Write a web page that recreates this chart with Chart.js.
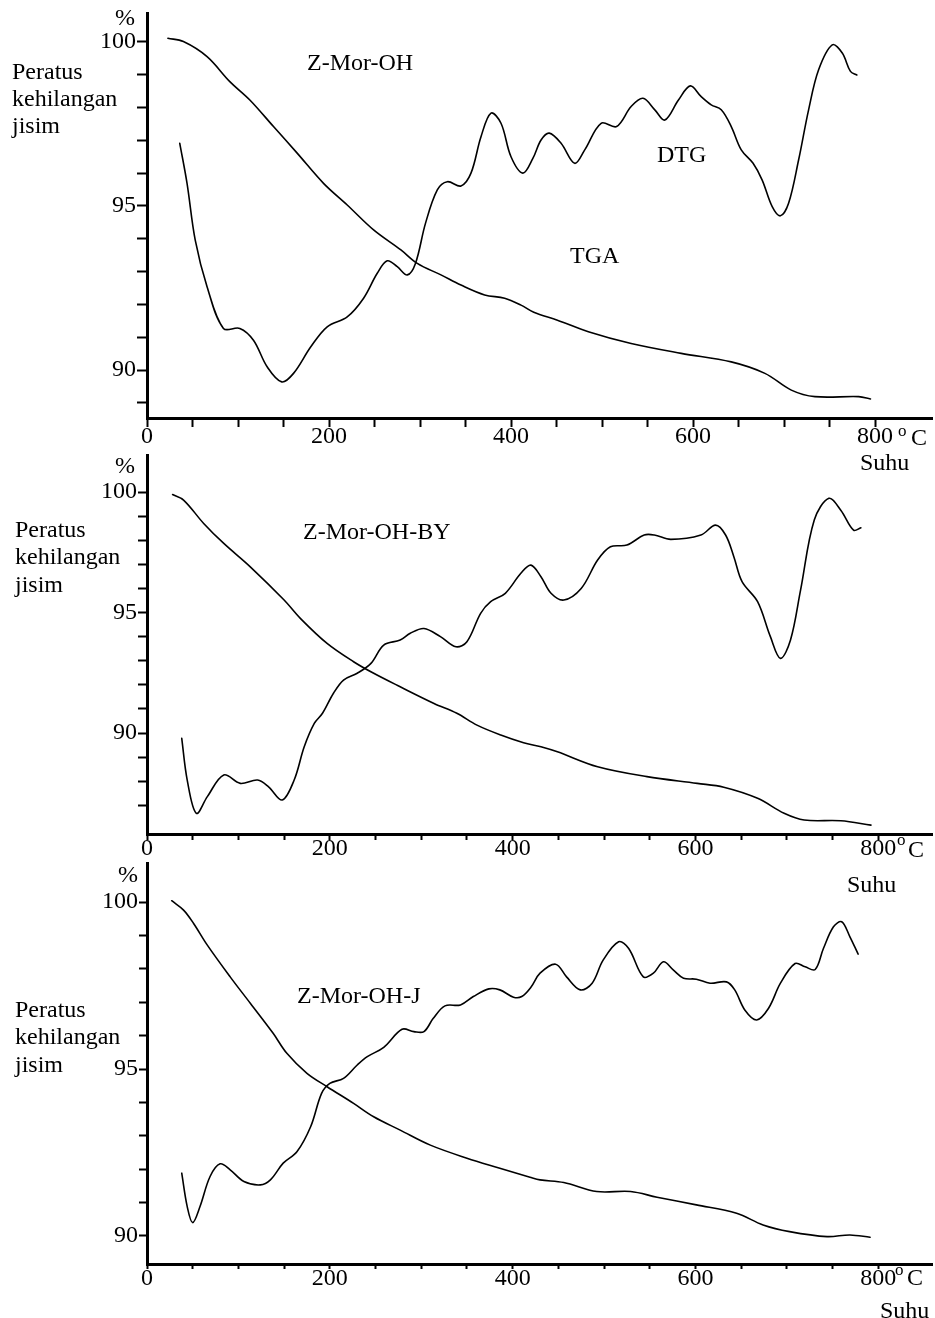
<!DOCTYPE html>
<html><head><meta charset="utf-8">
<script src="https://cdn.jsdelivr.net/npm/chart.js@4.4.0/dist/chart.umd.min.js"></script>
<style>
html,body{margin:0;padding:0;background:#fff;width:935px;height:1318px;overflow:hidden;position:relative}
canvas{position:absolute;left:0}
</style></head><body>
<canvas id="c1" width="935" height="500" style="top:-20px"></canvas>
<canvas id="c2" width="935" height="480" style="top:420px"></canvas>
<canvas id="c3" width="935" height="488" style="top:830px"></canvas>
<script>
// ---------- DATA (temperature °C, percent) ----------
// Panel 1: Z-Mor-OH
const p1TgaT = [23,40,66,91,113,139,165,194,220,249,279,297,323,345,371,393,411,425,451,485,532,587,642,679,708,734,782,795];
const p1TgaV = [100.11,100.01,99.55,98.79,98.23,97.42,96.61,95.69,95.03,94.27,93.66,93.25,92.90,92.59,92.29,92.19,91.98,91.76,91.52,91.17,90.81,90.51,90.25,89.90,89.39,89.19,89.19,89.12];
const p1DtgT = [36,44,53,66,84,102,117,132,148,161,180,198,220,238,253,264,275,286,295,306,319,330,345,356,367,378,389,400,413,424,433,442,455,470,481,499,516,532,545,558,569,584,597,609,620,631,642,653,666,676,687,696,705,716,727,738,753,764,773,780];
const p1DtgV = [96.91,95.69,93.96,92.54,91.27,91.27,90.91,90.10,89.64,89.90,90.71,91.32,91.62,92.19,92.95,93.33,93.15,92.90,93.25,94.47,95.49,95.74,95.61,96.00,97.11,97.83,97.52,96.50,96.00,96.45,97.01,97.22,96.91,96.30,96.71,97.52,97.42,98.03,98.28,97.93,97.62,98.23,98.66,98.33,98.08,97.93,97.42,96.71,96.30,95.79,94.98,94.70,95.08,96.40,97.93,99.15,99.91,99.66,99.10,98.99];
// Panel 2: Z-Mor-OH-BY
const p2TgaT = [28,40,62,84,113,150,168,197,226,248,277,314,339,361,387,412,431,449,493,547,602,631,668,697,719,759,792];
const p2TgaV = [99.90,99.67,98.70,97.87,96.90,95.52,94.75,93.72,92.96,92.48,91.92,91.23,90.82,90.33,89.92,89.60,89.43,89.22,88.60,88.19,87.91,87.75,87.29,86.67,86.39,86.36,86.18];
const p2DtgT = [38,44,54,66,84,102,121,133,148,161,172,183,192,204,215,230,245,259,277,288,303,321,338,350,365,376,392,409,420,431,442,456,475,493,507,525,544,555,573,606,622,633,642,651,668,682,693,704,715,730,746,759,773,781];
const p2DtgV = [89.78,88.05,86.67,87.36,88.26,87.91,88.05,87.77,87.22,88.05,89.43,90.40,90.82,91.65,92.20,92.48,92.89,93.65,93.86,94.14,94.34,94.00,93.58,93.79,94.97,95.45,95.80,96.63,96.97,96.49,95.80,95.52,96.00,97.18,97.73,97.80,98.22,98.22,98.04,98.22,98.63,98.22,97.32,96.28,95.45,94.00,93.10,93.86,95.93,98.84,99.74,99.25,98.42,98.52];
// Panel 3: Z-Mor-OH-J
const p3TgaT = [27,40,51,66,91,113,138,153,175,197,226,248,277,310,350,386,419,430,456,492,529,558,601,645,674,703,744,769,791];
const p3TgaV = [100.04,99.76,99.36,98.71,97.76,96.97,96.07,95.47,94.87,94.47,93.97,93.57,93.17,92.72,92.33,92.03,91.76,91.68,91.60,91.33,91.33,91.16,90.93,90.68,90.33,90.13,89.98,90.03,89.96];
const p3DtgT = [38,44,50,58,69,80,91,106,124,135,149,164,179,191,200,215,230,241,259,279,292,303,313,326,343,357,374,386,401,410,420,430,447,459,474,487,499,516,527,543,554,565,576,587,601,616,634,643,654,667,680,693,709,720,731,740,751,760,769,778];
const p3DtgV = [91.88,90.88,90.40,90.88,91.78,92.16,91.98,91.63,91.53,91.68,92.18,92.52,93.27,94.27,94.57,94.72,95.12,95.37,95.65,96.19,96.12,96.12,96.51,96.89,96.92,97.17,97.40,97.37,97.15,97.17,97.45,97.87,98.14,97.76,97.37,97.57,98.26,98.81,98.61,97.76,97.87,98.21,97.96,97.72,97.69,97.57,97.61,97.37,96.77,96.47,96.82,97.57,98.16,98.06,97.98,98.61,99.26,99.41,98.96,98.44];

// tick labels
const xTickLabels = [0, 200, 400, 600, 800];
const yTickLabels = [90, 95, 100];

// ---------- LAYOUT ----------
const FONT = '"Liberation Serif", "Times New Roman", serif';
const panels = [
  { id:'c1', top:-20, height:500, padTop:33, xHeight:62, xMax:862.6, yMin:88.54, yMax:100.88,
    xTickLen:9, yTickLen:10, xPad:-2,
    tga:[p1TgaT,p1TgaV], dtg:[p1DtgT,p1DtgV],
    notes:[
      {t:'%', x:115, y:25},
      {t:'Peratus', x:12, y:79}, {t:'kehilangan', x:12, y:106}, {t:'jisim', x:12, y:133},
      {t:'Z-Mor-OH', x:307, y:70}, {t:'DTG', x:657, y:162}, {t:'TGA', x:570, y:263},
      {t:'o', x:898, y:436, s:17}, {t:'C', x:911, y:445},
      {t:'Suhu', x:860, y:470}
    ]},
  { id:'c2', top:420, height:480, padTop:35, xHeight:66, xMax:858.8, yMin:85.81, yMax:101.54,
    xTickLen:6, yTickLen:9, xPad:-3.5,
    tga:[p2TgaT,p2TgaV], dtg:[p2DtgT,p2DtgV],
    notes:[
      {t:'%', x:115, y:473},
      {t:'Peratus', x:15, y:537}, {t:'kehilangan', x:15, y:564}, {t:'jisim', x:15, y:592},
      {t:'Z-Mor-OH-BY', x:303, y:539},
      {t:'o', x:897, y:845, s:17}, {t:'C', x:908, y:857},
      {t:'Suhu', x:847, y:892}
    ]},
  { id:'c3', top:830, height:488, padTop:33, xHeight:54, xMax:858.8, yMin:89.16, yMax:101.17,
    xTickLen:5, yTickLen:8, xPad:-2,
    tga:[p3TgaT,p3TgaV], dtg:[p3DtgT,p3DtgV],
    notes:[
      {t:'%', x:118, y:882},
      {t:'Peratus', x:15, y:1017}, {t:'kehilangan', x:15, y:1044}, {t:'jisim', x:15, y:1072},
      {t:'Z-Mor-OH-J', x:297, y:1003},
      {t:'o', x:895, y:1275, s:17}, {t:'C', x:907, y:1285},
      {t:'Suhu', x:880, y:1318}
    ]}
];

function toPts(xs, ys){ return xs.map((x,i)=>({x:x, y:ys[i]})); }

function notesPlugin(p){
  return { id:'notes'+p.id, afterDraw(chart){
    const ctx = chart.ctx; ctx.save();
    ctx.fillStyle = '#000'; ctx.textAlign = 'left'; ctx.textBaseline = 'alphabetic';
    p.notes.forEach(n => { ctx.font = (n.s || 24) + 'px ' + FONT; ctx.fillText(n.t, n.x, n.y - p.top); });
    ctx.restore();
  }};
}

panels.forEach(p => {
  const lineDs = (d) => ({ data: toPts(d[0], d[1]), borderColor:'#000', borderWidth:1.6,
    pointRadius:0, fill:false, tension:0.35, borderCapStyle:'round', borderJoinStyle:'round' });
  new Chart(document.getElementById(p.id), {
    type:'line',
    data:{ datasets:[ lineDs(p.tga), lineDs(p.dtg) ] },
    options:{
      responsive:false, animation:false, devicePixelRatio:1,
      layout:{ padding:{ top:p.padTop, right:3, left:0, bottom:0 } },
      plugins:{ legend:{display:false}, tooltip:{enabled:false} },
      scales:{
        x:{ type:'linear', min:0, max:p.xMax,
          afterBuildTicks: s => { const t=[]; for(let v=0; v<=xTickLabels[xTickLabels.length-1]; v+=50) t.push({value:v}); s.ticks = t; },
          afterFit: s => { s.height = p.xHeight; },
          ticks:{ autoSkip:false, maxRotation:0, padding:p.xPad, color:'#000',
            font:{ family:FONT, size:24, lineHeight:1 },
            callback: v => xTickLabels.includes(v) ? String(v) : '' },
          grid:{ drawOnChartArea:false, drawTicks:true, tickLength:p.xTickLen, tickWidth:2, tickColor:'#000' },
          border:{ display:true, width:3, color:'#000' } },
        y:{ type:'linear', min:p.yMin, max:p.yMax,
          afterBuildTicks: s => { const t=[]; for(let v=Math.ceil(p.yMin+0.3); v<=yTickLabels[yTickLabels.length-1]; v++) t.push({value:v}); s.ticks = t; },
          afterFit: s => { s.width = 147; },
          ticks:{ autoSkip:false, padding:1, color:'#000',
            font:{ family:FONT, size:24, lineHeight:1 },
            callback: v => yTickLabels.includes(v) ? String(v) : '' },
          grid:{ drawOnChartArea:false, drawTicks:true, tickLength:p.yTickLen, tickWidth:2, tickColor:'#000' },
          border:{ display:true, width:3, color:'#000' } }
      }
    },
    plugins:[ notesPlugin(p) ]
  });
});
</script>
</body></html>
